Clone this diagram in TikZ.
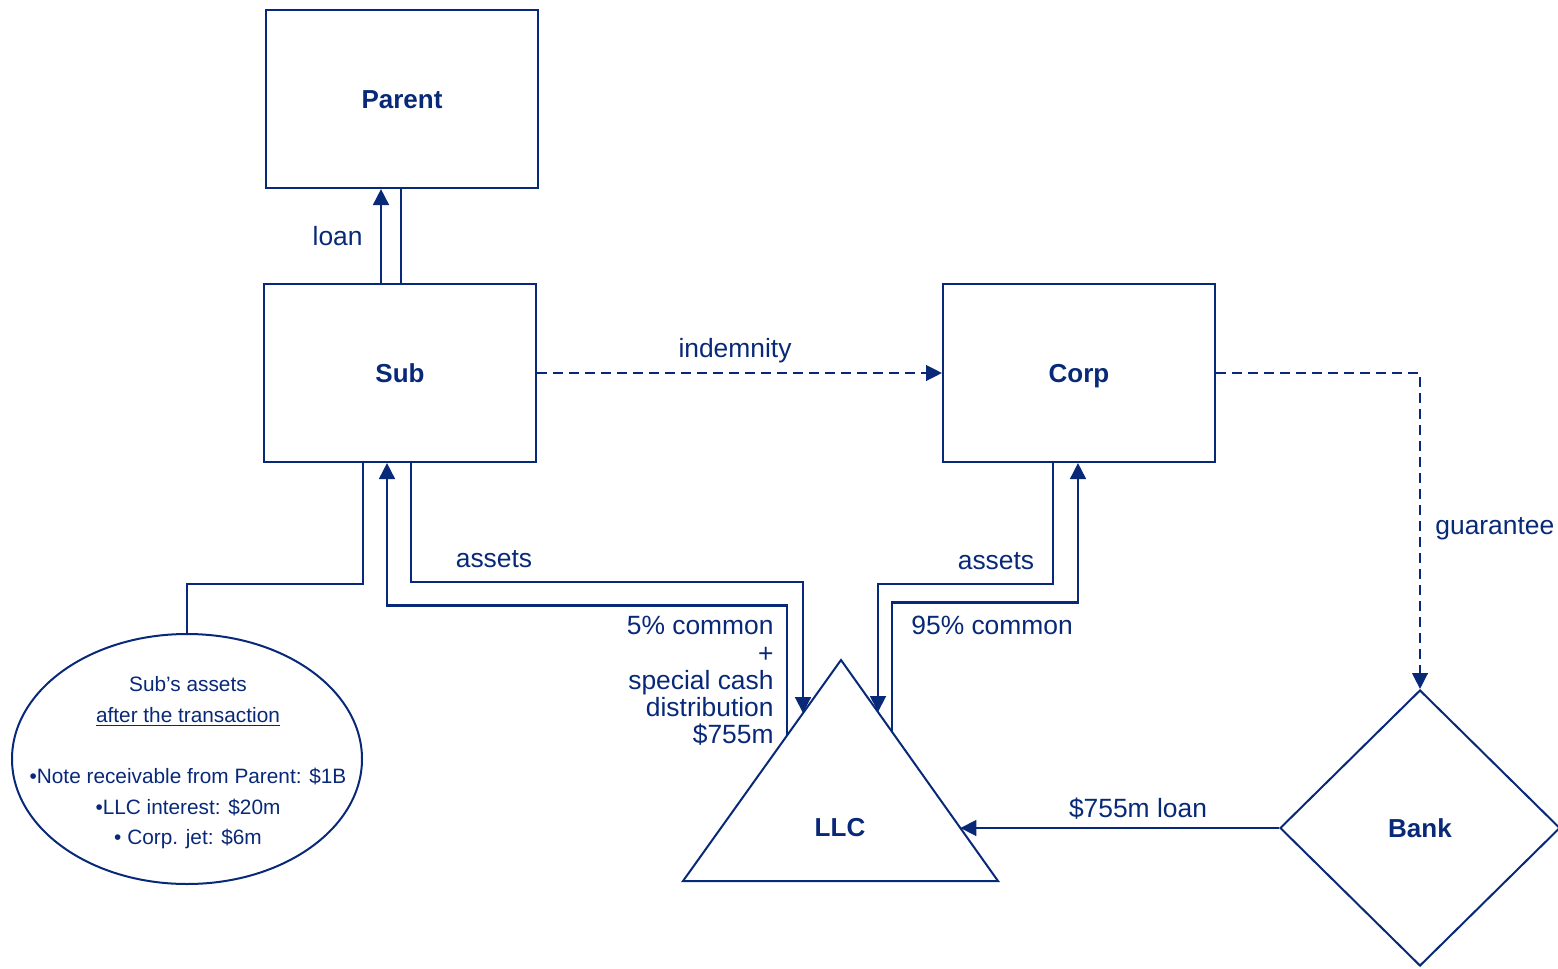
\documentclass[tikz,border=0pt]{standalone}
\usepackage{fontspec}
\setmainfont{Liberation Sans}
\usetikzlibrary{arrows.meta,calc,shapes.geometric}
\definecolor{navy}{RGB}{8,40,120}
\begin{document}
\begin{tikzpicture}[x=0.5pt,y=-0.5pt,
  head/.style={-{Triangle[width=7.8pt,length=8pt]}},
  boldtext/.style={text=navy,font=\fontsize{13}{15}\selectfont\bfseries,
    text height=9.4pt,text depth=0.2pt},
  box/.style={draw=navy,line width=1pt,minimum width=136pt,minimum height=89pt,boldtext},
  link/.style={draw=navy,line width=1pt},
  flow/.style={draw=navy,line width=1.4pt,head},
  promise/.style={draw=navy,line width=1.2pt,dash pattern=on 5pt off 3pt,head},
  lbl/.style={text=navy,font=\fontsize{13.2}{13.6}\selectfont,inner sep=0pt},
]
\useasboundingbox (0,0) rectangle (1558,969);
\clip (0,0) rectangle (1558,969);

% entities
\node[box] (parent) at (402,99) {Parent};
\node[box] (sub) at (400,373) {Sub};
\node[box] (corp) at (1079,373) {Corp};
\node[draw=navy,line width=1pt,diamond,minimum width=140pt,minimum height=138pt,
  inner sep=0pt,boldtext] (bank) at (1420,828) {Bank};

% LLC triangle
\coordinate (apex) at (841,660);
\coordinate (baseL) at (683,881);
\coordinate (baseR) at (998,881);
\draw[link,line join=miter] (apex) -- (baseL) -- (baseR) -- cycle;
\node[boldtext] (llc) at (840,827) {LLC};
\coordinate (llcA) at ($(apex)!0.2405!(baseL)$);
\coordinate (llcB) at ($(apex)!0.3418!(baseL)$);
\coordinate (llcC) at ($(apex)!0.2357!(baseR)$);
\coordinate (llcD) at ($(apex)!0.3248!(baseR)$);
\coordinate (llcE) at ($(apex)!0.7602!(baseR)$);

% note on Sub's assets
\node[draw=navy,line width=1pt,ellipse,minimum width=175pt,minimum height=125pt] (note) at (187,759) {};
\node[text=navy,font=\fontsize{10.4}{15.3}\selectfont,align=center] (notetext) at (188,763)
  {Sub’s assets\\\underline{after the transaction}\\[15.3pt]%
   •Note receivable from Parent: \$1B\\•LLC interest: \$20m\\• Corp. jet: \$6m};

% loan from Sub to Parent
\coordinate (loanA) at ($(sub.north)+(-19,0)$);
\coordinate (loanB) at ($(sub.north)+(1,0)$);
\draw[flow] (loanA) -- (loanA |- parent.south);
\draw[link] (loanB) -- (loanB |- parent.south);
\node[lbl,anchor=east] (loanlbl) at (363,236) {loan};

% indemnity and guarantee
\draw[promise] (sub.east) -- (corp.west);
\node[lbl] (indlbl) at (735,351) {indemnity};
\draw[promise] (corp.east) -| (bank.north);
\node[lbl,anchor=west] (guarlbl) at (1435,529) {guarantee};

% Sub <-> LLC
\draw[flow] ($(sub.south)+(11,0)$) -- ++(0,119) -| (llcA);
\node[lbl] (subassets) at (494,559) {assets};
\draw[flow] (llcB) -- ++(0,-130) -| ($(sub.south)+(-13,0)$);
\node[lbl,anchor=east,align=right] (sublbl) at (774,681)
  {5\% common\\+\\special cash\\distribution\\\$755m};

% Sub -> note
\draw[link] ($(sub.south)+(-37,0)$) -- ++(0,121) -| (note.north);

% Corp <-> LLC
\draw[flow] ($(corp.south)+(-26,0)$) -- ++(0,121) -| (llcC);
\node[lbl] (corpassets) at (996,561) {assets};
\draw[flow] (llcD) -- ++(0,-129) -| ($(corp.south)+(-1,0)$);
\node[lbl,anchor=west] (corplbl) at (911,625) {95\% common};

% Bank loan to LLC
\draw[flow] (bank.west) -- (llcE |- bank.west);
\node[lbl] (banklbl) at (1138,809) {\$755m loan};
\end{tikzpicture}
\end{document}
